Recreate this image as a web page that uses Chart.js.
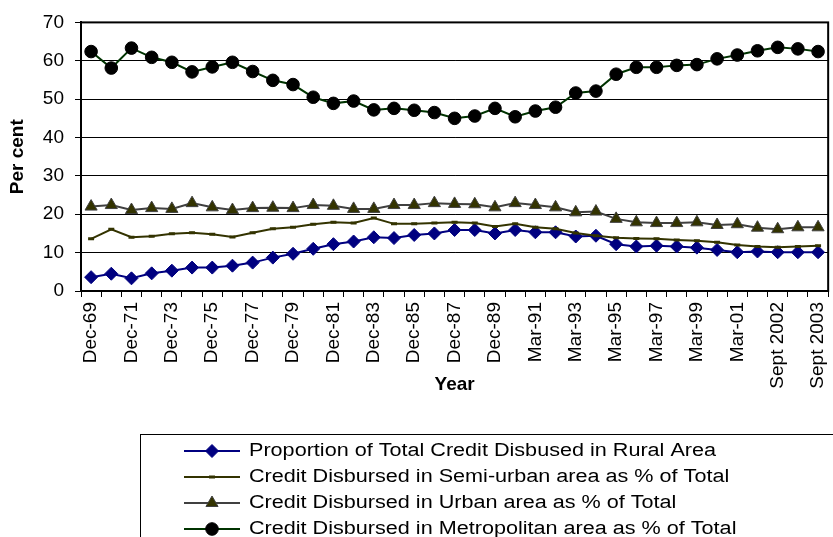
<!DOCTYPE html>
<html>
<head>
<meta charset="utf-8">
<title>Credit disbursed by population group</title>
<script src="https://cdn.jsdelivr.net/npm/chart.js@4/dist/chart.umd.min.js"></script>
<style>
  html, body { margin: 0; padding: 0; background: #fff; overflow: hidden; }
  #wrap { width: 833px; height: 537px; overflow: hidden; position: relative; }
  #chart { position: absolute; left: 0; top: 0; }
</style>
</head>
<body>
<div id="wrap"><canvas id="chart" width="846" height="537"></canvas></div>
<script>
// Period labels (one per observation)
const periods = [
  'Dec-69', 'Dec-70', 'Dec-71', 'Dec-72', 'Dec-73', 'Dec-74', 'Dec-75', 'Dec-76', 'Dec-77',
  'Dec-78', 'Dec-79', 'Dec-80', 'Dec-81', 'Dec-82', 'Dec-83', 'Dec-84', 'Dec-85', 'Dec-86',
  'Dec-87', 'Dec-88', 'Dec-89', 'Mar-90', 'Mar-91', 'Mar-92', 'Mar-93', 'Mar-94', 'Mar-95',
  'Mar-96', 'Mar-97', 'Mar-98', 'Mar-99', 'Mar-00', 'Mar-01', 'Mar-02', 'Sept 2002', 'Mar-03',
  'Sept 2003'
];

// Only every second period gets a label on the axis
const labelledPeriods = [
  'Dec-69', 'Dec-71', 'Dec-73', 'Dec-75', 'Dec-77', 'Dec-79', 'Dec-81', 'Dec-83', 'Dec-85',
  'Dec-87', 'Dec-89', 'Mar-91', 'Mar-93', 'Mar-95', 'Mar-97', 'Mar-99', 'Mar-01',
  'Sept 2002', 'Sept 2003'
];

// Share of total credit (per cent)
const ruralShare = [
  3.6, 4.5, 3.3, 4.6, 5.3, 6.1, 6.1, 6.6, 7.4, 8.7, 9.7, 11.0, 12.2,
  12.9, 14.0, 13.8, 14.6, 15.0, 15.9, 15.9, 15.0, 15.9, 15.3, 15.3, 14.2,
  14.4, 12.2, 11.6, 11.8, 11.6, 11.3, 10.7, 10.1, 10.3, 10.1, 10.1, 10.1
];
const semiUrbanShare = [
  13.6, 16.1, 14.0, 14.3, 14.9, 15.2, 14.8, 14.1, 15.2, 16.2, 16.6, 17.4, 17.9,
  17.7, 19.0, 17.5, 17.5, 17.7, 17.9, 17.7, 16.8, 17.5, 16.6, 16.2, 15.1,
  14.4, 13.9, 13.7, 13.6, 13.3, 13.1, 12.7, 12.0, 11.6, 11.4, 11.6, 11.8
];
const urbanShare = [
  22.0, 22.4, 21.1, 21.6, 21.4, 22.9, 21.8, 21.1, 21.6, 21.7, 21.6, 22.4, 22.2,
  21.4, 21.4, 22.4, 22.4, 22.9, 22.7, 22.6, 21.8, 22.9, 22.4, 21.8, 20.5,
  20.7, 18.8, 17.9, 17.7, 17.7, 17.9, 17.2, 17.4, 16.5, 16.1, 16.6, 16.6
];
const metroShare = [
  62.4, 58.1, 63.3, 60.9, 59.6, 57.1, 58.4, 59.6, 57.2, 54.9, 53.8, 50.5, 48.9,
  49.5, 47.2, 47.6, 47.1, 46.5, 45.0, 45.6, 47.6, 45.4, 46.9, 47.9, 51.6,
  52.1, 56.5, 58.3, 58.3, 58.8, 59.0, 60.5, 61.5, 62.6, 63.5, 63.1, 62.4
];

const yMin = 0;
const yMax = 70;
const yStep = 10;

Chart.defaults.font.family = 'Arial, "Liberation Sans", sans-serif';
Chart.defaults.color = '#000';

// Box around the plot area (left and bottom are the axes)
const plotBorder = {
  id: 'plotBorder',
  afterDraw(chart) {
    const { ctx, chartArea } = chart;
    ctx.save();
    ctx.strokeStyle = '#000';
    ctx.lineWidth = 2;
    ctx.strokeRect(chartArea.left, chartArea.top, chartArea.right - chartArea.left, chartArea.bottom - chartArea.top);
    ctx.restore();
  }
};

// Boxed legend under the chart: line sample with marker, then the label
const boxedLegend = {
  id: 'boxedLegend',
  afterDraw(chart) {
    const ctx = chart.ctx;
    const box = { left: 140, top: 434, rowY: 451, rowGap: 26, lineFrom: 184, lineTo: 240, textX: 249 };
    const textStretch = 1.2; // legend text is set a little wide
    ctx.save();
    ctx.strokeStyle = '#000';
    ctx.lineWidth = 1;
    ctx.strokeRect(box.left + 0.5, box.top + 0.5, 900, 200);

    ctx.font = '18px Arial, "Liberation Sans", sans-serif';
    ctx.textBaseline = 'middle';
    ctx.textAlign = 'left';
    chart.data.datasets.forEach((ds, i) => {
      const y = box.rowY + i * box.rowGap;
      ctx.strokeStyle = ds.borderColor;
      ctx.lineWidth = ds.borderWidth;
      ctx.beginPath();
      ctx.moveTo(box.lineFrom, y);
      ctx.lineTo(box.lineTo, y);
      ctx.stroke();

      ctx.fillStyle = ds.pointBackgroundColor;
      ctx.strokeStyle = ds.pointBorderColor;
      ctx.lineWidth = ds.pointBorderWidth;
      Chart.helpers.drawPoint(ctx, {
        pointStyle: ds.pointStyle,
        radius: ds.pointRadius,
        rotation: 0,
        borderWidth: ds.pointBorderWidth
      }, (box.lineFrom + box.lineTo) / 2, y);

      ctx.save();
      ctx.translate(box.textX, y);
      ctx.scale(textStretch, 1);
      ctx.fillStyle = '#000';
      ctx.fillText(ds.label, 0, 0);
      ctx.restore();
    });
    ctx.restore();
  }
};

const ctx = document.getElementById('chart').getContext('2d');
new Chart(ctx, {
  type: 'line',
  data: {
    labels: periods,
    datasets: [
      {
        label: 'Proportion of Total Credit Disbused in Rural Area',
        data: ruralShare,
        borderColor: '#000080',
        borderWidth: 2,
        pointStyle: 'rectRot',
        pointRadius: 6.5,
        pointBackgroundColor: '#000080',
        pointBorderColor: '#000080',
        pointBorderWidth: 1,
        order: 4
      },
      {
        label: 'Credit Disbursed in Semi-urban area as % of Total',
        data: semiUrbanShare,
        borderColor: '#333300',
        borderWidth: 2,
        pointStyle: 'line',
        pointRadius: 3,
        pointBackgroundColor: '#333300',
        pointBorderColor: '#333300',
        pointBorderWidth: 3,
        order: 3
      },
      {
        label: 'Credit Disbursed in Urban area as % of Total',
        data: urbanShare,
        borderColor: '#404040',
        borderWidth: 2,
        pointStyle: 'triangle',
        pointRadius: 7,
        pointBackgroundColor: '#333300',
        pointBorderColor: '#404040',
        pointBorderWidth: 1,
        order: 2
      },
      {
        label: 'Credit Disbursed in Metropolitan area as % of Total',
        data: metroShare,
        borderColor: '#003300',
        borderWidth: 2,
        pointStyle: 'circle',
        pointRadius: 6.3,
        pointBackgroundColor: '#000',
        pointBorderColor: '#000',
        pointBorderWidth: 1,
        order: 1
      }
    ]
  },
  options: {
    responsive: false,
    animation: false,
    devicePixelRatio: 1,
    layout: { padding: { top: 19, right: 10, bottom: 137, left: 0 } },
    elements: { line: { tension: 0 } },
    plugins: {
      legend: { display: false },
      tooltip: { enabled: false }
    },
    scales: {
      x: {
        offset: true,
        grid: {
          offset: true,
          drawOnChartArea: false,
          drawTicks: true,
          tickLength: 6,
          color: '#000'
        },
        border: { color: '#000', width: 2 },
        ticks: {
          autoSkip: false,
          minRotation: 90,
          maxRotation: 90,
          padding: 5,
          font: { size: 19 },
          callback: function(value, index) {
            const label = this.getLabelForValue(value);
            return labelledPeriods.includes(label) ? label : '';
          }
        },
        title: {
          display: true,
          text: 'Year',
          font: { size: 19, weight: 'bold' },
          padding: { top: 2, bottom: 4 }
        },
        afterFit: function(scale) { scale.height = 109; }
      },
      y: {
        min: yMin,
        max: yMax,
        grid: {
          color: '#000',
          lineWidth: 1,
          drawTicks: true,
          tickLength: 6
        },
        border: { color: '#000', width: 2 },
        ticks: {
          stepSize: yStep,
          padding: 11,
          font: { size: 19 }
        },
        title: {
          display: true,
          text: 'Per cent',
          font: { size: 19, weight: 'bold' },
          padding: { top: 6, bottom: 0 }
        },
        afterFit: function(scale) { scale.width = 81; }
      }
    }
  },
  plugins: [plotBorder, boxedLegend]
});
</script>
</body>
</html>
